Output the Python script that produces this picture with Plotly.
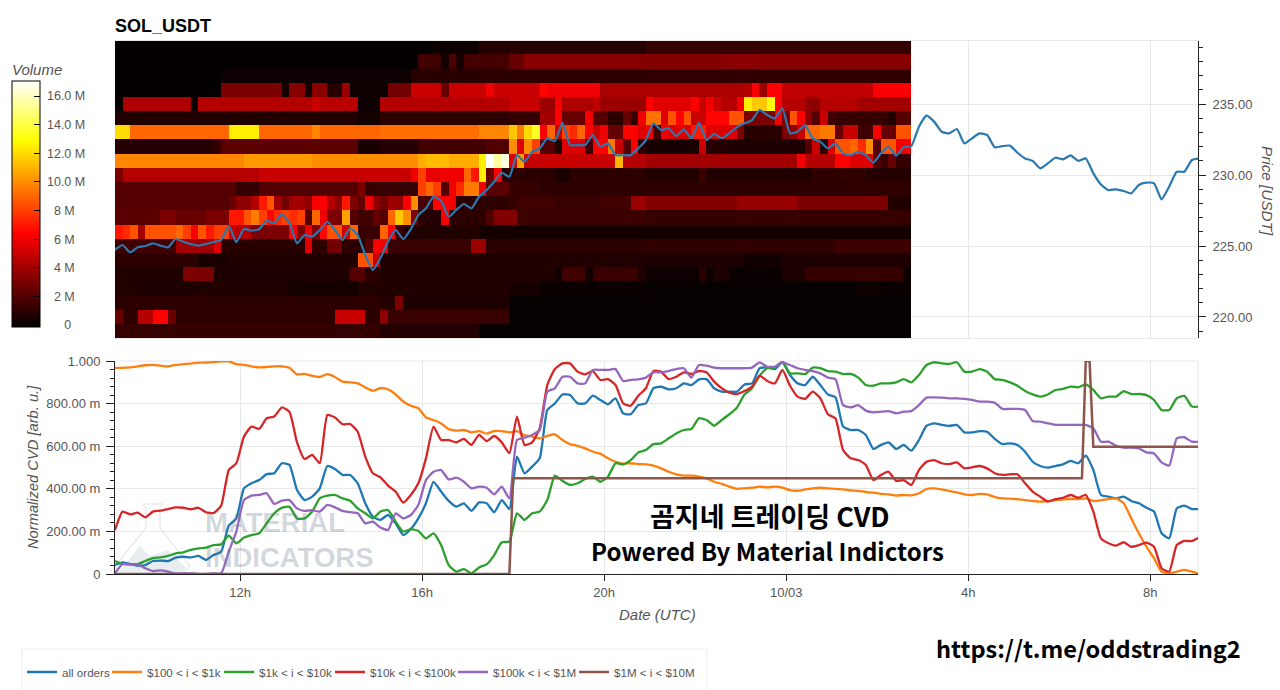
import pandas as pd
import plotly.graph_objects as go

# ---------- data ----------
START = "2025-10-02 09:15"
LINE_TIMES = pd.date_range(START, periods=144, freq="10min")
HEAT_TIMES = pd.date_range("2025-10-02 09:20", periods=105, freq="10min")
PRICE_BINS = list(range(219, 240))

PRICE = [
 224.72,225.07,224.55,224.91,225.0,225.19,225.03,224.91,225.49,225.3,
 225.14,225.03,225.14,225.28,225.42,226.41,225.26,226.2,226.08,226.18,
 226.79,226.6,227.25,226.64,225.19,225.77,225.66,226.13,226.71,226.13,
 225.42,226.25,225.77,224.37,223.3,224.15,225.3,226.13,225.49,226.18,
 227.18,227.65,228.47,228.19,227.06,227.54,227.96,227.65,228.47,228.94,
 229.53,230.16,229.88,231.4,230.94,231.64,231.88,232.58,232.39,233.68,
 232.11,232.11,232.11,232.82,232.0,232.23,231.4,231.4,231.4,231.88,
 232.46,233.64,233.17,233.29,232.75,233.22,232.58,233.68,232.46,232.89,
 232.58,232.94,233.36,233.64,233.87,234.58,234.23,233.99,234.7,232.94,
 233.05,233.52,232.58,232.35,231.88,232.23,231.53,231.4,231.64,231.4,
 230.87,231.53,232.0,231.36,231.95,232.04,233.4,234.18,233.76,233.05,
 232.93,233.24,232.23,232.58,232.93,232.82,231.95,232.04,232.07,231.57,
 231.17,230.99,230.47,230.82,231.22,231.1,231.38,231.0,231.17,230.12,
 229.34,228.94,228.99,228.87,228.71,229.3,229.46,229.41,228.29,229.18,
 230.23,230.23,231.06,231.17]

ALL_ORDERS = [
 .042,.055,.047,.039,.042,.061,.063,.061,.077,.081,
 .078,.085,.066,.089,.105,.227,.261,.402,.426,.441,
 .469,.473,.52,.512,.394,.347,.363,.402,.507,.493,
 .465,.465,.426,.332,.269,.254,.277,.238,.183,.211,
 .261,.332,.433,.387,.343,.316,.332,.296,.336,.332,
 .29,.347,.305,.551,.473,.504,.543,.77,.801,.843,
 .84,.801,.801,.837,.817,.797,.825,.754,.75,.793,
 .801,.872,.879,.867,.872,.895,.887,.914,.915,.872,
 .856,.856,.856,.89,.895,.966,.969,.962,.994,.934,
 .895,.887,.926,.887,.843,.83,.692,.676,.676,.653,
 .587,.606,.618,.587,.606,.579,.629,.696,.707,.70,
 .695,.70,.665,.665,.671,.668,.634,.61,.613,.606,
 .574,.527,.507,.499,.507,.515,.531,.52,.556,.488,
 .371,.363,.355,.363,.343,.332,.311,.293,.191,.167,
 .308,.321,.305,.305]
ORDERS_100_1K = [
 .968,.968,.970,.975,.980,.982,.978,.975,.982,.985,
 .988,.992,.993,.995,.998,.998,.985,.982,.975,.970,
 .972,.975,.975,.968,.937,.940,.930,.925,.938,.925,
 .903,.900,.895,.876,.86,.872,.867,.843,.81,.79,
 .778,.735,.723,.707,.68,.673,.676,.665,.671,.659,
 .671,.671,.665,.671,.652,.645,.637,.648,.656,.629,
 .61,.602,.59,.574,.565,.543,.527,.518,.52,.516,
 .515,.509,.496,.48,.468,.462,.462,.457,.449,.433,
 .423,.41,.40,.402,.405,.41,.407,.41,.405,.394,
 .391,.397,.402,.405,.402,.40,.397,.393,.39,.385,
 .382,.376,.374,.368,.371,.369,.379,.399,.402,.397,
 .39,.383,.374,.371,.376,.374,.361,.355,.354,.351,
 .347,.343,.34,.343,.347,.351,.352,.352,.355,.343,
 .346,.352,.355,.332,.261,.191,.128,.074,.011,.003,
 .011,.019,.011,0]
ORDERS_1K_10K = [
 .061,.047,.045,.047,.061,.074,.078,.085,.097,.102,
 .113,.12,.124,.136,.139,.18,.144,.171,.183,.191,
 .238,.285,.311,.316,.261,.261,.293,.355,.368,.371,
 .355,.344,.308,.285,.261,.293,.30,.246,.199,.211,
 .202,.167,.191,.136,.042,.011,.023,.003,.031,.045,
 .089,.149,.152,.285,.254,.285,.293,.347,.462,.437,
 .418,.426,.446,.457,.433,.457,.52,.515,.535,.571,
 .582,.61,.613,.637,.66,.676,.681,.731,.723,.696,
 .723,.75,.781,.843,.872,.931,.966,.969,.997,.942,
 .942,.939,.969,.966,.953,.95,.939,.939,.922,.887,
 .884,.895,.895,.90,.915,.90,.934,.981,.994,.989,
 .986,.994,.95,.95,.962,.95,.915,.911,.90,.884,
 .859,.843,.833,.843,.864,.869,.88,.876,.89,.864,
 .825,.833,.833,.859,.845,.845,.84,.817,.77,.77,
 .825,.836,.786,.786]
ORDERS_10K_100K = [
 .207,.293,.28,.288,.266,.293,.297,.305,.313,.311,
 .304,.311,.29,.286,.321,.488,.52,.645,.692,.681,
 .731,.739,.782,.762,.618,.54,.559,.52,.746,.735,
 .703,.704,.668,.551,.473,.454,.415,.387,.335,.371,
 .426,.543,.692,.629,.629,.618,.634,.606,.653,.624,
 .648,.618,.567,.739,.606,.618,.684,.887,.962,.989,
 .989,.95,.937,.953,.911,.915,.887,.801,.79,.837,
 .872,.953,.95,.915,.926,.947,.939,.953,.947,.903,
 .872,.851,.845,.859,.88,.931,.906,.895,.958,.884,
 .833,.822,.856,.825,.75,.73,.582,.543,.535,.512,
 .441,.465,.48,.437,.441,.418,.488,.527,.535,.52,
 .516,.524,.496,.501,.507,.496,.473,.465,.468,.468,
 .426,.387,.363,.34,.351,.358,.371,.358,.371,.293,
 .167,.144,.133,.149,.128,.136,.147,.128,.027,.011,
 .136,.155,.155,.172]
ORDERS_100K_1M = [
 .003,.047,.045,.045,.027,.014,.017,.011,.003,.003,
 .003,0,0,.003,.003,.105,.199,.347,.368,.371,
 .379,.329,.344,.347,.308,.296,.30,.293,.324,.313,
 .296,.29,.285,.238,.246,.218,.207,.285,.261,.277,
 .324,.441,.48,.488,.444,.452,.433,.402,.41,.405,
 .374,.41,.355,.629,.64,.653,.676,.856,.872,.926,
 .926,.895,.895,.958,.958,.958,.962,.906,.911,.914,
 .922,.947,.947,.953,.962,.966,.922,.981,.978,.969,
 .966,.966,.966,.966,.969,.994,.973,.973,.994,.981,
 .966,.958,.953,.942,.922,.915,.793,.782,.793,.767,
 .759,.762,.765,.754,.762,.765,.793,.828,.829,.828,
 .825,.825,.822,.817,.809,.809,.804,.775,.775,.775,
 .77,.718,.715,.707,.70,.70,.70,.70,.70,.684,
 .621,.621,.602,.593,.593,.59,.571,.566,.524,.509,
 .637,.642,.621,.621]
ORDERS_1M_10M_TIMES = ["2025-10-02 09:15","2025-10-02 17:55","2025-10-02 18:00",
                       "2025-10-03 06:30","2025-10-03 06:35","2025-10-03 06:40",
                       "2025-10-03 06:45","2025-10-03 09:05"]
ORDERS_1M_10M = [0,0,.449,.449,1.0,1.0,.598,.598]

# Volume per price bin (millions); each row: (first 10-minute column, value) runs
ROW_239 = [(0,0),(42,.2),(48,.8),(70,1.2)]
ROW_238 = [(0,0),(40,1.5),(43,.3),(44,1.8),(45,.5),(46,1.6),(52,2.5),(54,3.3),(70,3.2),(80,3.4),(85,3.3)]
ROW_237 = [(0,0),(14,.2),(39,.9),(48,1.0),(70,1.1)]
ROW_236 = [(0,0),(14,3),(22,.4),(23,3.3),(25,.4),(26,3.4),(28,.8),(30,3.8),(31,.2),(36,2.8),(39,5),(43,2.5),(44,5),(49,6),(50,5),(56,6.5),(57,6),(64,4.2),(83,4.5),(84,6.2),(85,3.8),(86,6.4),(88,4.8),(100,6.3)]
ROW_235 = [(0,.1),(1,4.3),(10,.2),(11,4.5),(26,5),(27,4.6),(32,.2),(35,4.5),(52,5),(56,3.8),(58,6.2),(59,4.3),(63,4.8),(64,3.8),(70,6.3),(71,5.6),(76,6.4),(77,5),(78,6),(79,5),(80,4.5),(82,6),(83,12.5),(84,11.5),(86,13),(87,6.4),(88,4.5),(91,3.5),(93,4.5),(98,4)]
ROW_234 = [(0,.7),(32,.4),(35,1),(52,1.2),(56,4),(58,6.4),(59,2.5),(62,6.2),(63,2),(65,1),(67,2.5),(68,1.2),(69,6),(70,9.3),(72,5.5),(73,8.5),(74,6.5),(75,8.5),(76,5),(78,6.5),(81,8.5),(83,3),(87,6.2),(88,3),(89,8.5),(90,6.4),(91,3.5),(92,2),(93,5),(94,1.5),(95,1.2),(102,.7),(103,2)]
ROW_233 = [(0,12),(2,9),(15,12.5),(19,9),(26,9.8),(27,9),(35,9.2),(48,9.8),(52,11.5),(53,9.5),(54,12),(55,13.5),(56,6.4),(57,9),(58,5),(59,8),(60,7.5),(61,9),(62,6.4),(63,5),(64,6),(65,2.5),(67,6.4),(69,5.5),(70,6),(71,1.5),(72,6),(73,5.5),(76,7),(78,5.5),(82,3),(83,.9),(88,3),(89,3.5),(90,5),(91,9),(93,9.5),(95,2.5),(96,5),(98,1.5),(100,6.2),(101,2.5),(103,8.5)]
ROW_232 = [(0,.8),(13,1.2),(14,2.2),(32,.5),(35,.8),(40,1.5),(49,1.9),(52,10),(53,5.5),(54,10),(55,8),(56,2),(58,.6),(59,5.5),(62,1.5),(63,6.4),(65,9.5),(66,5),(67,2),(68,6.4),(69,1),(70,.5),(77,5),(78,.8),(81,.6),(91,2),(92,5),(93,1),(94,5.5),(95,8.5),(97,9),(98,7.5),(99,10),(100,2),(101,8.5),(103,6)]
ROW_231 = [(0,9.8),(17,10.3),(26,10),(40,10.8),(41,11.2),(44,10.8),(48,12.5),(49,17),(50,15.5),(51,16.5),(52,5.5),(53,10.5),(54,5),(66,11),(67,4.5),(70,4),(90,6.2),(91,4.5),(95,6.4),(97,5.5),(100,2),(101,1.2),(102,2.5),(103,1.2)]
ROW_230 = [(0,3),(1,4.5),(19,5),(39,6),(40,8),(41,5.8),(43,6),(46,9),(47,7),(48,12.5),(49,2.5),(50,6.3),(51,1),(58,.5),(60,1),(70,.7),(77,1.5),(78,.7),(92,1.1),(99,.8)]
ROW_229 = [(0,2),(16,1.2),(19,2),(32,3),(33,1.2),(40,8),(41,9),(42,8),(43,2),(44,6),(45,7.5),(46,9.5),(48,6),(49,2.2),(52,1.2),(56,1),(97,1.1)]
ROW_228 = [(0,2),(15,2.5),(16,3.5),(18,4.5),(19,7),(20,8.5),(21,4),(22,2.8),(23,4),(25,3.5),(26,6.3),(28,4.5),(29,3.5),(30,7),(31,3),(32,2.5),(33,6),(34,3.5),(35,2.8),(36,3.8),(38,6.3),(39,10),(40,1.7),(42,6.4),(44,6),(45,1),(52,1.2),(53,1.5),(58,1.3),(64,1.5),(68,3.8),(70,3.2),(82,3.7),(90,3),(102,.7)]
ROW_227 = [(0,2.2),(6,3),(8,2.5),(12,3),(15,7),(17,8.5),(18,9.5),(19,8),(20,6.5),(21,7.5),(22,8),(23,7.5),(24,8),(25,2),(26,9),(27,6),(28,3),(30,10.5),(31,2),(32,1.5),(34,2.5),(35,2),(36,9),(37,11.5),(38,10),(39,3),(40,1),(41,.8),(43,6.2),(44,1),(49,1.8),(50,3.2),(53,1.4),(70,1.25)]
ROW_226 = [(0,7),(1,7.5),(2,8.5),(3,4),(4,8.5),(8,9),(9,8),(10,6.2),(11,8.5),(12,7),(13,8),(15,5),(16,4.5),(18,3),(23,6.3),(24,3),(25,6),(26,3),(27,6.5),(28,8.5),(30,5),(31,9),(32,1.3),(35,9),(36,6.3),(37,1.5),(38,.7),(48,.4)]
ROW_225 = [(0,1.5),(8,4),(13,5.5),(14,.9),(25,5.5),(26,1),(28,2.8),(30,1),(33,2),(34,6.2),(35,6),(36,1.3),(47,3.8),(49,1),(70,1.1),(95,1.4)]
ROW_224 = [(0,1),(11,.5),(15,.7),(32,8.5),(34,5),(35,.7),(70,.6),(83,.3),(88,.6)]
ROW_223 = [(0,.7),(9,3),(13,.6),(31,2),(33,1),(35,.7),(58,.2),(59,1.5),(62,.3),(63,1.3),(69,.7),(70,.2),(77,1),(78,.2),(79,.6),(81,.1),(88,.6),(91,1.2),(104,.2)]
ROW_222 = [(0,.7),(3,.6),(11,.7),(23,.4),(32,.7),(52,.5),(56,.15),(70,.05),(98,.2),(101,.05),(102,.15)]
ROW_221 = [(0,1),(35,.8),(37,3),(38,.6),(52,.05)]
ROW_220 = [(0,2.5),(1,1),(3,4.5),(5,6.4),(7,2.5),(8,1),(29,5),(33,1),(35,3.5),(36,1.3),(52,.05)]
ROW_219 = [(0,1.2),(35,.8),(48,.05)]
HEAT_ROWS = [ROW_219,ROW_220,ROW_221,ROW_222,ROW_223,ROW_224,ROW_225,ROW_226,ROW_227,ROW_228,ROW_229,
             ROW_230,ROW_231,ROW_232,ROW_233,ROW_234,ROW_235,ROW_236,ROW_237,ROW_238,ROW_239]

SERIES = [("all orders", ALL_ORDERS, "#1f77b4"), ("$100 < i < $1k", ORDERS_100_1K, "#ff7f0e"),
          ("$1k < i < $10k", ORDERS_1K_10K, "#2ca02c"), ("$10k < i < $100k", ORDERS_10K_100K, "#d62728"),
          ("$100k < i < $1M", ORDERS_100K_1M, "#9467bd")]
TIME_TICKS = ["2025-10-02 12:00","2025-10-02 16:00","2025-10-02 20:00","2025-10-03 00:00","2025-10-03 04:00","2025-10-03 08:00"]
TIME_LABELS = ["12h","16h","20h","10/03","4h","8h"]
PRICE_TICKS = [220,225,230,235]
PRICE_LABELS = ["220.00","225.00","230.00","235.00"]
CVD_TICKS = [0,.2,.4,.6,.8,1]
CVD_LABELS = ["0","200.00 m","400.00 m","600.00 m","800.00 m","1.000"]
VOL_TICKS = [0,2,4,6,8,10,12,14,16]
NB = "\u00a0"
VOL_LABELS = [NB*6+"0",NB*3+"2 M",NB*3+"4 M",NB*3+"6 M",NB*3+"8 M",NB+"10.0 M",NB+"12.0 M",NB+"14.0 M",NB+"16.0 M"]


def expand(runs, n=105):
    out = []
    for k, (start, val) in enumerate(runs):
        end = runs[k + 1][0] if k + 1 < len(runs) else n
        out += [val] * (end - start)
    return out

# ---------- layout helpers ----------
L, R, T, B = 115, 1198, 41, 574
def px(x): return (x - L) / (R - L)
def py(y): return (B - y) / (B - T)

FONT = "Liberation Sans"
GREY = "#555555"
GRID = "#e8e8e8"
X_RANGE = ["2025-10-02 09:15", "2025-10-03 09:03"]

fig = go.Figure()
fig.add_trace(go.Heatmap(
    x=HEAT_TIMES, y=PRICE_BINS, z=[expand(r) for r in HEAT_ROWS], xaxis="x", yaxis="y",
    zmin=-0.14, zmax=17.05, showlegend=False, hoverinfo="skip",
    colorscale=[[0, "#000000"], [0.38, "#ff0000"], [0.7586, "#ffff00"], [1, "#ffffff"]],
    colorbar=dict(x=px(12), xanchor="left", xref="paper", y=py(81), yanchor="top", yref="paper",
                  thickness=28, thicknessmode="pixels", len=246, lenmode="pixels", xpad=0, ypad=0,
                  outlinecolor="#000000", outlinewidth=1, ticks="inside", ticklen=6, tickcolor="#000000",
                  tickmode="array", tickvals=VOL_TICKS, ticktext=VOL_LABELS,
                  tickfont=dict(family=FONT, size=12.5, color=GREY)),
))
fig.add_trace(go.Scatter(x=LINE_TIMES, y=PRICE, mode="lines", xaxis="x", yaxis="y", showlegend=False,
                         line=dict(color="#2a78b0", width=2.2, shape="spline", smoothing=0.5), hoverinfo="skip"))
for k, (name, vals, col) in enumerate(SERIES):
    fig.add_trace(go.Scatter(x=LINE_TIMES, y=vals, mode="lines", name=name, xaxis="x2", yaxis="y2",
                             legend="legend" if k == 0 else f"legend{k + 1}",
                             line=dict(color=col, width=2.3, shape="spline", smoothing=0.5)))
fig.add_trace(go.Scatter(x=ORDERS_1M_10M_TIMES, y=ORDERS_1M_10M, mode="lines", name="$1M < i < $10M",
                         xaxis="x2", yaxis="y2", legend="legend6", line=dict(color="#8c564b", width=2.5)))

def ann(text, x, y, size, color="#000000", family=FONT, anchor="center", angle=0):
    return dict(text=text, x=px(x), y=py(y), xref="paper", yref="paper", showarrow=False, xanchor=anchor,
                yanchor="middle", textangle=angle, font=dict(family=family, size=size, color=color))

WM = "rgba(95,115,135,0.28)"
annotations = [
    ann("<b>SOL_USDT</b>", 113, 26, 18, anchor="left"),
    ann("<i>Volume</i>", 10, 70, 15, color=GREY, anchor="left"),
    ann("<i>Price [USDT]</i>", 1268, 191, 15.3, color=GREY, angle=90),
    ann("<i>Normalized CVD [arb. u.]</i>", 33, 467, 14.7, color=GREY, angle=-90),
    ann("<i>Date (UTC)</i>", 657, 614, 15, color=GREY),
    ann("<b>곰지네 트레이딩 CVD</b>", 770, 515, 27, family="Noto Sans CJK KR"),
    ann("<b>Powered By Material Indictors</b>", 767, 550, 24, family="Noto Sans CJK KR"),
    ann("<b>https://t.me/oddstrading2</b>", 1088, 648, 23.6, family="Noto Sans CJK KR"),
    ann("<b>MATERIAL</b>", 203, 522, 27.5, color=WM, anchor="left"),
    ann("<b>INDICATORS</b>", 203, 557, 27.5, color=WM, anchor="left"),
]

def path(points, close=True):
    s = "M " + " L ".join(f"{px(x):.5f} {py(y):.5f}" for x, y in points)
    return s + (" Z" if close else "")

shapes = [
    dict(type="rect", xref="paper", yref="paper", x0=px(22), x1=px(707), y0=py(649), y1=py(692),
         line=dict(color="#eeeeee", width=1), fillcolor="rgba(0,0,0,0)"),
    dict(type="line", xref="paper", yref="paper", x0=px(L), x1=px(R), y0=py(361), y1=py(361),
         line=dict(color=GRID, width=1), layer="below"),
    dict(type="line", xref="paper", yref="paper", x0=px(R), x1=px(R), y0=py(361), y1=py(574),
         line=dict(color=GRID, width=1), layer="below"),
    dict(type="path", xref="paper", yref="paper", layer="below", line=dict(color="#e9ecef", width=1.5),
         path=path([(143, 504), (163, 504), (160, 508), (160, 528), (190, 566), (184, 572), (119, 572), (115, 566), (146, 528), (146, 508)])),
    dict(type="path", xref="paper", yref="paper", layer="below", line=dict(width=0), fillcolor="#e8edf0",
         path=path([(120, 571), (140, 546), (150, 556), (168, 550), (186, 568), (183, 571)])),
]

LEGEND_TEXT_STARTS = [62, 147, 259, 370, 493, 614]
def legend_at(text_start):
    return dict(orientation="h", x=px(text_start - 40), xanchor="left", y=py(672), yanchor="middle",
                bgcolor="rgba(0,0,0,0)", font=dict(family=FONT, size=11.6, color=GREY), itemwidth=30)

fig.update_layout(
    width=1280, height=690, autosize=False, margin=dict(l=L, r=1280 - R, t=T, b=690 - B, autoexpand=False),
    paper_bgcolor="#ffffff", plot_bgcolor="#ffffff", font=dict(family=FONT, size=12, color=GREY),
    hovermode=False, annotations=annotations, shapes=shapes,
    legend=legend_at(LEGEND_TEXT_STARTS[0]), legend2=legend_at(LEGEND_TEXT_STARTS[1]), legend3=legend_at(LEGEND_TEXT_STARTS[2]),
    legend4=legend_at(LEGEND_TEXT_STARTS[3]), legend5=legend_at(LEGEND_TEXT_STARTS[4]), legend6=legend_at(LEGEND_TEXT_STARTS[5]),
    xaxis=dict(domain=[0, 1], range=X_RANGE, type="date", anchor="y", tickmode="array", tickvals=TIME_TICKS,
               ticktext=TIME_LABELS, showticklabels=False, ticks="", showgrid=True, gridcolor=GRID, gridwidth=1,
               showline=True, linecolor=GRID, mirror=True, zeroline=False),
    yaxis=dict(domain=[py(338), 1], range=[218.52, 239.44], side="right", anchor="x", tickmode="array",
               tickvals=PRICE_TICKS, ticktext=PRICE_LABELS, showgrid=True, gridcolor=GRID, gridwidth=1, zeroline=False,
               showline=True, linecolor="#222222", ticks="outside", ticklen=7, tickcolor="#222222", ticklabelstandoff=4,
               tickfont=dict(family=FONT, size=13, color=GREY),
               minor=dict(dtick=1, tick0=219, ticks="outside", ticklen=4, tickcolor="#222222", showgrid=False)),
    xaxis2=dict(domain=[0, 1], range=X_RANGE, type="date", anchor="y2", tickmode="array", tickvals=TIME_TICKS,
                ticktext=TIME_LABELS, showgrid=True, gridcolor=GRID, gridwidth=1, zeroline=False,
                showline=True, linecolor="#222222", ticks="outside", ticklen=6, tickcolor="#222222",
                tickfont=dict(family=FONT, size=13, color=GREY)),
    yaxis2=dict(domain=[0, py(361)], range=[0, 1], anchor="x2", tickmode="array", tickvals=CVD_TICKS,
                ticktext=CVD_LABELS, showgrid=True, gridcolor=GRID, gridwidth=1, zeroline=False,
                showline=True, linecolor="#222222", ticks="outside", ticklen=8, tickcolor="#222222", ticklabelstandoff=3,
                tickfont=dict(family=FONT, size=13, color=GREY),
                minor=dict(dtick=.04, tick0=0, ticks="outside", ticklen=4, tickcolor="#222222", showgrid=False)),
)

fig.write_html("out.html", config={"displayModeBar": False},
               post_script="document.body.style.margin='0';document.body.style.overflow='hidden';")
